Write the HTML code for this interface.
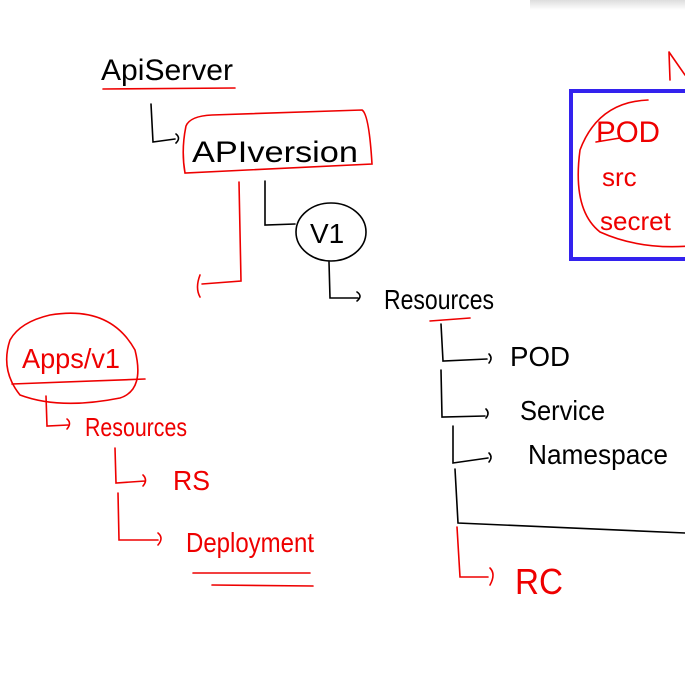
<!DOCTYPE html>
<html><head><meta charset="utf-8"><style>
html,body{margin:0;padding:0;background:#fff;width:685px;height:693px;overflow:hidden}
svg{display:block}
text{font-family:"Liberation Sans",sans-serif}
</style></head><body>
<svg width="685" height="693" viewBox="0 0 685 693" xmlns="http://www.w3.org/2000/svg">
<defs><linearGradient id="sh" x1="0" y1="0" x2="0" y2="1"><stop offset="0" stop-color="#ddd"/><stop offset="1" stop-color="#fff"/></linearGradient></defs>
<rect x="530" y="0" width="155" height="10" fill="url(#sh)"/>
<g fill="none" stroke-width="1.6" stroke-linecap="round">
<g stroke="#000">
<path d="M151 104 L153 142 L175 139 M176 134 Q181 138 176 143"/>
<path d="M265 181 L265 225 L295 224"/>
<ellipse cx="331" cy="232" rx="35" ry="29"/>
<path d="M329 262 L330 298 L358 298 M357 292 Q363 296 357 301"/>
<path d="M441 324 L443 361 L487 359 M489 354 Q493 358 489 363"/>
<path d="M441 370 L442 417 L485 416 M486 409 Q490 413 486 418"/>
<path d="M453 426 L453 463 L488 458 M489 453 Q493 457 489 462"/>
<path d="M455 469 L458 523 L685 533"/>
</g>
<g stroke="#e00">
<path d="M103 89 L235 88"/>
<path d="M186 126 Q190 116 212 115 L362 110 Q369 114 372 164 L185 173 Q181 150 186 126Z"/>
<path d="M239 182 L241 281 L202 284 M200 275 Q195 288 200 297"/>
<path d="M430 321 L470 318"/>
<path d="M50 315 Q110 305 135 350 Q145 390 120 398 Q60 410 20 395 Q0 370 10 340 Q20 322 50 315Z"/>
<path d="M12 384 L145 379"/>
<path d="M46 396 L47 426 L68 425 M67 419 Q72 423 67 429"/>
<path d="M115 448 L116 483 L145 481 M143 475 Q148 480 143 486"/>
<path d="M118 493 L119 540 L158 540 M158 533 Q164 538 158 545"/>
<path d="M193 573 L310 573 M212 585 L313 586"/>
<path d="M457 527 L460 577 L488 577 M490 568 Q496 574 490 585"/>
<path d="M669 52 L670 80 M669 52 L685 75"/>
<path d="M648 100 Q598 102 580 150 Q572 210 600 232 Q640 250 690 246"/>
<path d="M596 142 L620 138"/>
</g>
</g>
<rect x="571" y="91" width="120" height="168" fill="none" stroke="#3322ee" stroke-width="4"/>
<g>
<text x="101" y="80" fill="#000" font-size="30" textLength="132" lengthAdjust="spacingAndGlyphs">ApiServer</text>
<text x="192" y="162" fill="#000" font-size="30" textLength="166" lengthAdjust="spacingAndGlyphs">APIversion</text>
<text x="310" y="243" fill="#000" font-size="28">V1</text>
<text x="384" y="309" fill="#000" font-size="28" textLength="110" lengthAdjust="spacingAndGlyphs">Resources</text>
<text x="510" y="366" fill="#000" font-size="28" textLength="60" lengthAdjust="spacingAndGlyphs">POD</text>
<text x="520" y="420" fill="#000" font-size="28" textLength="85" lengthAdjust="spacingAndGlyphs">Service</text>
<text x="528" y="464" fill="#000" font-size="28" textLength="140" lengthAdjust="spacingAndGlyphs">Namespace</text>
<text x="22" y="368" fill="#e00" font-size="28" textLength="98" lengthAdjust="spacingAndGlyphs">Apps/v1</text>
<text x="85" y="436" fill="#e00" font-size="26" textLength="102" lengthAdjust="spacingAndGlyphs">Resources</text>
<text x="173" y="490" fill="#e00" font-size="28" textLength="37" lengthAdjust="spacingAndGlyphs">RS</text>
<text x="186" y="552" fill="#e00" font-size="28" textLength="128" lengthAdjust="spacingAndGlyphs">Deployment</text>
<text x="515" y="594" fill="#e00" font-size="36" textLength="48" lengthAdjust="spacingAndGlyphs">RC</text>
<text x="596" y="142" fill="#e00" font-size="30" textLength="64" lengthAdjust="spacingAndGlyphs">POD</text>
<text x="602" y="186" fill="#e00" font-size="26">src</text>
<text x="600" y="230" fill="#e00" font-size="26">secret</text>
</g>
</svg>
</body></html>
